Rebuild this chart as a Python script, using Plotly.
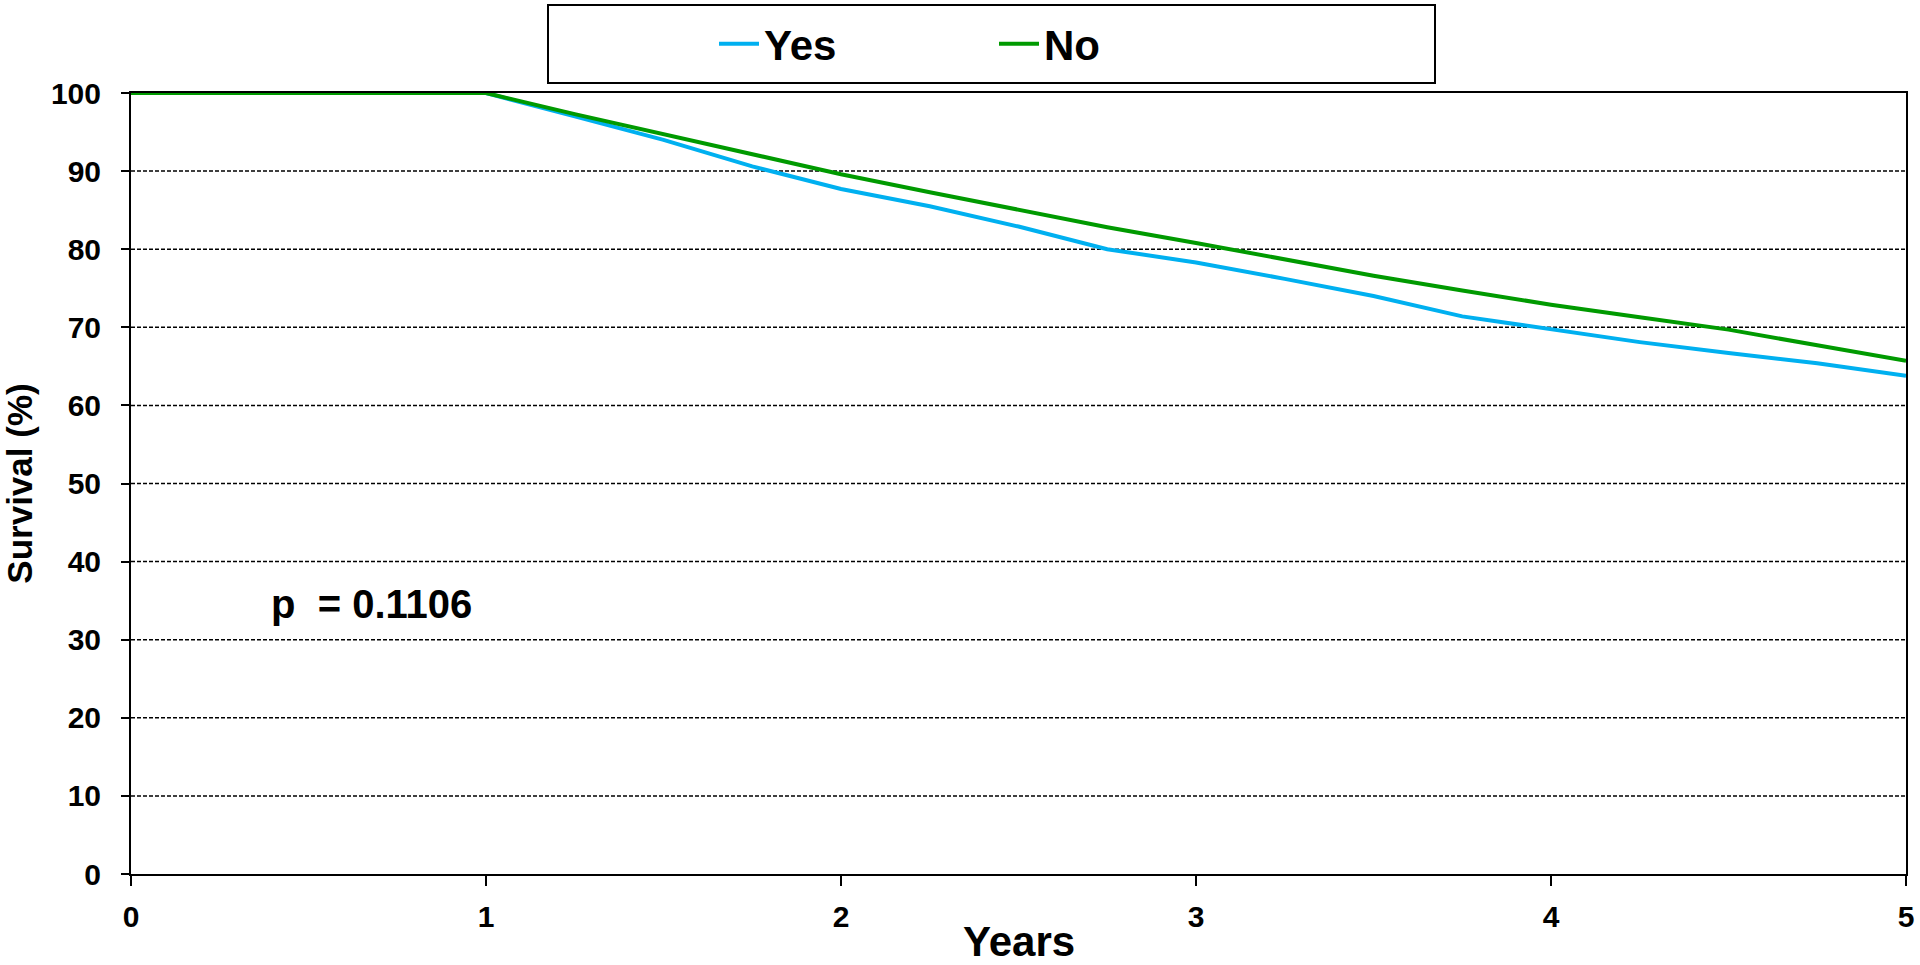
import plotly.graph_objects as go

years = [0, 1, 1.25, 1.5, 1.75, 2, 2.25, 2.5, 2.75, 3, 3.25, 3.5, 3.75, 4, 4.25, 4.5, 4.75, 5]
yes_surv = [100, 100, 97.0, 94.0, 90.6, 87.7, 85.5, 82.9, 80.0, 78.3, 76.2, 74.0, 71.4, 69.8, 68.1, 66.7, 65.4, 63.8]
no_surv = [100, 100, 97.3, 94.7, 92.1, 89.6, 87.3, 85.0, 82.8, 80.8, 78.7, 76.6, 74.7, 72.9, 71.3, 69.7, 67.7, 65.7]

y_ticks = list(range(0, 101, 10))
x_ticks = [0, 1, 2, 3, 4, 5]
p_text = "p  = 0.1106"

font = "Liberation Sans, Arial, sans-serif"

W, H = 1920, 965
L, T, R, B = 131, 93, 14, 91
pw, ph = W - L - R, H - T - B


def px_x(x):  # page x pixel -> paper fraction
    return (x - L) / pw


def px_y(y):  # page y pixel -> paper fraction
    return 1 - (y - T) / ph


fig = go.Figure()
fig.add_trace(go.Scatter(x=years, y=yes_surv, mode="lines", name="Yes",
                         line=dict(color="#00B0F0", width=4)))
fig.add_trace(go.Scatter(x=years, y=no_surv, mode="lines", name="No",
                         line=dict(color="#009A00", width=4)))

# dashed horizontal gridlines
for v in y_ticks[1:-1]:
    fig.add_shape(type="line", xref="paper", yref="y", x0=0, x1=1, y0=v, y1=v,
                  line=dict(color="black", width=1.5, dash="4px,2px"), layer="below")

# legend box
fig.add_shape(type="rect", xref="paper", yref="paper",
              x0=px_x(548), x1=px_x(1435), y0=px_y(83), y1=px_y(5),
              line=dict(color="black", width=2), fillcolor="white")

fig.add_annotation(x=0.39, y=34.6, xref="x", yref="y", text="<b>" + p_text + "</b>",
                   showarrow=False, xanchor="left",
                   font=dict(family=font, size=40, color="black"))

# x axis title sits lower than plotly's margin-limited title allows
fig.add_annotation(x=0.5, y=px_y(941), xref="paper", yref="paper", text="<b>Years</b>",
                   showarrow=False, xanchor="center", yanchor="middle",
                   font=dict(family=font, size=42, color="black"))

fig.update_layout(
    width=W, height=H,
    margin=dict(l=L, r=R, t=T, b=B, autoexpand=False),
    plot_bgcolor="white", paper_bgcolor="white",
    font=dict(family=font, color="black"),
    showlegend=True,
    legend=dict(orientation="h", xref="container", yref="container",
                x=714 / W, xanchor="left",
                y=1 - 44 / H, yanchor="middle",
                entrywidth=225, entrywidthmode="pixels",
                font=dict(family=font, size=42, color="black", weight="bold"),
                bgcolor="rgba(0,0,0,0)", itemwidth=40),
    xaxis=dict(range=[0, 5], tickvals=x_ticks, showgrid=False, zeroline=False,
               showline=True, linecolor="black", linewidth=2, mirror=True,
               automargin=True,
               ticks="outside", ticklen=10, tickcolor="black", tickwidth=2,
               ticklabelstandoff=5,
               tickfont=dict(family=font, size=30, color="black", weight="bold")),
    yaxis=dict(range=[0, 100], tickvals=y_ticks, showgrid=False, zeroline=False,
               showline=True, linecolor="black", linewidth=2, mirror=True,
               automargin=True,
               ticks="outside", ticklen=8, tickcolor="black", tickwidth=2,
               ticklabelstandoff=14,
               tickfont=dict(family=font, size=30, color="black", weight="bold"),
               title=dict(text="<b>Survival (%)</b>", font=dict(family=font, size=35), standoff=12)),
)

# drop the default 8px body margin so the figure fills the window exactly
fig.write_html("out.html", config={"displayModeBar": False},
               post_script="document.body.style.margin='0';")
